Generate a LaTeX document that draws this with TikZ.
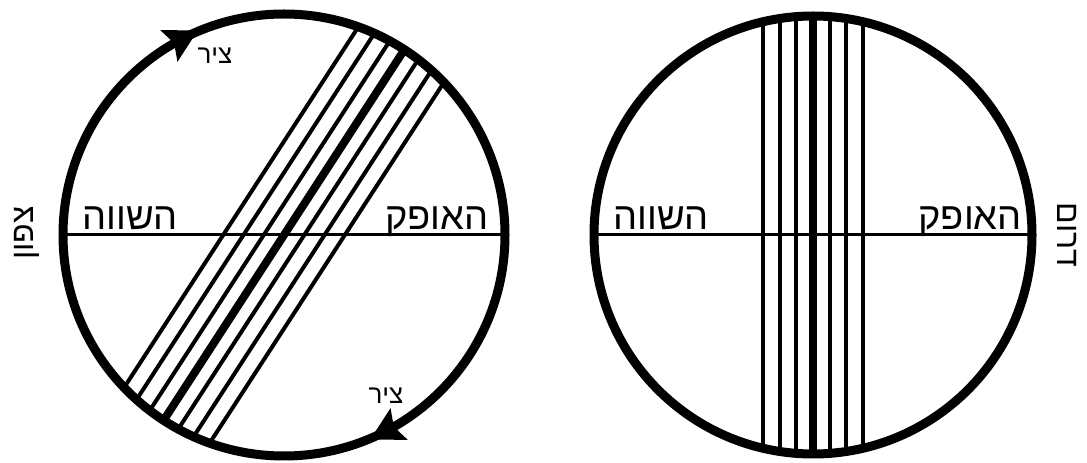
\documentclass[tikz,border=0pt]{standalone}
\usepackage{fontspec}
\newfontfamily\heb[Script=Hebrew]{Liberation Sans}
\TeXXeTstate=1
\usetikzlibrary{calc}
\begin{document}
\begin{tikzpicture}[x=1pt,y=1pt,
  rim/.style={line width=9pt},
  axis/.style={line width=3pt},
  lbl/.style={font=\heb\fontsize{38}{38}\selectfont, inner sep=0pt},
  side/.style={font=\heb\fontsize{32}{32}\selectfont, inner sep=0pt},
  small/.style={font=\heb\fontsize{26}{26}\selectfont, inner sep=0pt}]
\useasboundingbox (0,0) rectangle (1087,463);
\coordinate (L) at (284,228);
\coordinate (R) at (813,228);
% left tilted band
\foreach \k in {-3,...,3} {
  \pgfmathsetmacro\d{17*\k}
  \pgfmathsetmacro\h{220*sqrt(1-(\d/220)^2)}
  \pgfmathsetmacro\w{\k==0 ? 8 : 4}
  \draw[line width=\w pt] ($(L)+(147:\d pt)+(57:\h pt)$) -- ($(L)+(147:\d pt)+(237:\h pt)$);
}
% right vertical band
\foreach \k in {-3,...,3} {
  \pgfmathsetmacro\d{16.7*\k}
  \pgfmathsetmacro\h{220*sqrt(1-(\d/220)^2)}
  \pgfmathsetmacro\w{\k==0 ? 8 : 4}
  \draw[line width=\w pt] ($(R)+(\d pt,\h pt)$) -- ($(R)+(\d pt,-\h pt)$);
}
% horizontal axes
\draw[axis] ($(L)+(-221pt,0)$) -- ($(L)+(221pt,0)$);
\draw[axis] ($(R)+(-219pt,0)$) -- ($(R)+(219pt,0)$);
% circles
\draw[rim] (L) circle[radius=221pt];
\draw[rim] (R) circle[radius=219pt];
% arrowheads on left circle
\foreach \t in {118.5,-61.5} {
  \coordinate (P) at ($(L)+(\t:221pt)$);
  \fill ($(P)+(\t-90:22pt)$) -- ($(P)+(\t+90:11pt)+(\t:18pt)$) -- ($(P)+(\t+90:5pt)$) -- ($(P)+(\t+90:11pt)+(\t+180:18pt)$) -- cycle;
}
% labels
\node[small] (z1) at (215,407) {\beginR ציר\endR};
\node[small] (z2) at (386,67) {\beginR ציר\endR};
\node[lbl, anchor=base west] (a1) at (82,233) {\beginR השווה\endR};
\node[lbl, anchor=base east] (b1) at (489,233) {\beginR האופק\endR};
\node[lbl, anchor=base west] (a2) at (613,233) {\beginR השווה\endR};
\node[lbl, anchor=base east] (b2) at (1022,233) {\beginR האופק\endR};
\node[side, rotate=90] (n) at (27,230) {\beginR צפון\endR};
\node[side, rotate=-90] (s) at (1067,228) {\beginR דרום\endR};
\end{tikzpicture}
\end{document}
